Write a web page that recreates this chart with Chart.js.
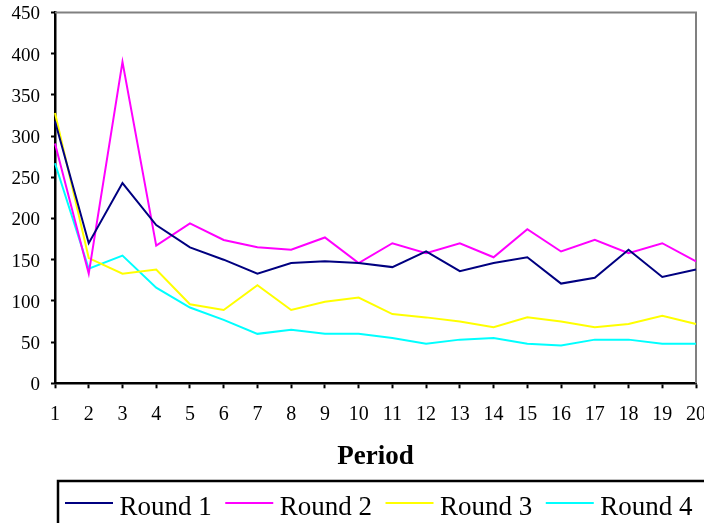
<!DOCTYPE html>
<html>
<head>
<meta charset="utf-8">
<script src="https://cdn.jsdelivr.net/npm/chart.js@4"></script>
<style>
html,body{margin:0;padding:0;background:#fff;}
#wrap{width:704px;height:523px;position:relative;}
</style>
</head>
<body>
<div id="wrap"><canvas id="c" width="704" height="523"></canvas></div>
<script>
// ---- data ----
const periods = ['1','2','3','4','5','6','7','8','9','10','11','12','13','14','15','16','17','18','19','20'];
const seriesNames = ['Round 1','Round 2','Round 3','Round 4'];
const seriesColors = ['#000080','#FF00FF','#FFFF00','#00FFFF'];
const round1 = [318, 170, 243, 192, 165, 150, 133, 146, 148, 146, 141, 160, 136, 146, 153, 121, 128, 162, 129, 138];
const round2 = [291, 133, 390, 167, 194, 174, 165, 162, 177, 146, 170, 158, 170, 153, 187, 160, 174, 158, 170, 148];
const round3 = [328, 152, 133, 138, 96, 89, 119, 89, 99, 104, 84, 80, 75, 68, 80, 75, 68, 72, 82, 72];
const round4 = [267, 139, 155, 116, 92, 77, 60, 65, 60, 60, 55, 48, 53, 55, 48, 46, 53, 53, 48, 48];
const yTickValues = [0, 50, 100, 150, 200, 250, 300, 350, 400, 450];
const xTitle = 'Period';

const seriesValues = [round1, round2, round3, round4];
const SERIF = '"Liberation Serif", "Times New Roman", serif';

const datasets = seriesValues.map((vals, i) => ({
  label: seriesNames[i],
  data: vals,
  borderColor: seriesColors[i],
  backgroundColor: seriesColors[i],
  borderWidth: 2,
  pointRadius: 0,
  pointHoverRadius: 0,
  tension: 0,
  fill: false
}));

// Gray top/right frame of the plot area
const framePlugin = {
  id: 'frame',
  beforeDatasetsDraw(chart) {
    const {ctx, chartArea: a} = chart;
    ctx.save();
    ctx.strokeStyle = '#808080';
    ctx.lineWidth = 2;
    ctx.beginPath();
    ctx.moveTo(a.left, a.top);
    ctx.lineTo(a.right, a.top);
    ctx.lineTo(a.right, a.bottom);
    ctx.stroke();
    ctx.restore();
  }
};

// Boxed legend under the axis title
const boxLegendPlugin = {
  id: 'boxLegend',
  afterDraw(chart) {
    const {ctx} = chart;
    ctx.save();
    ctx.strokeStyle = '#000';
    ctx.lineWidth = 2.5;
    ctx.strokeRect(58, 481, 700, 80);
    ctx.font = '27px ' + SERIF;
    ctx.textBaseline = 'alphabetic';
    ctx.textAlign = 'left';
    let x = 65;
    const lineY = 503;
    const textY = 515;
    chart.data.datasets.forEach(ds => {
      ctx.strokeStyle = ds.borderColor;
      ctx.lineWidth = 2;
      ctx.beginPath();
      ctx.moveTo(x, lineY);
      ctx.lineTo(x + 48, lineY);
      ctx.stroke();
      x += 48 + 6.5;
      ctx.fillStyle = '#000';
      ctx.fillText(ds.label, x, textY);
      x += ctx.measureText(ds.label).width + 13.5;
    });
    ctx.restore();
  }
};

new Chart(document.getElementById('c'), {
  type: 'line',
  data: { labels: periods, datasets: datasets },
  options: {
    responsive: false,
    animation: false,
    devicePixelRatio: 1,
    layout: { padding: { left: 0, right: 8, top: 12.5, bottom: 49.8 } },
    plugins: {
      legend: { display: false },
      tooltip: { enabled: false },
      title: { display: false }
    },
    scales: {
      x: {
        type: 'category',
        offset: false,
        grid: { display: true, drawOnChartArea: false, drawTicks: true, tickLength: 5, tickColor: '#000', tickWidth: 2 },
        border: { display: true, color: '#000', width: 2.5 },
        ticks: { color: '#000', font: { family: SERIF, size: 20 }, padding: 14, autoSkip: false, maxRotation: 0, minRotation: 0 },
        title: { display: true, text: xTitle, color: '#000', font: { family: SERIF, size: 27, weight: 'bold' }, padding: { top: 0, bottom: 0 } },
        afterFit(scale) { scale.height = 89.9; scale.paddingLeft = 0; scale.paddingRight = 0; }
      },
      y: {
        min: 0,
        max: 450,
        afterBuildTicks(scale) { scale.ticks = yTickValues.map(v => ({ value: v })); },
        grid: { display: true, drawOnChartArea: false, drawTicks: true, tickLength: 4, tickColor: '#000', tickWidth: 2 },
        border: { display: true, color: '#000', width: 2.5 },
        ticks: { color: '#000', font: { family: SERIF, size: 19 }, padding: 11, labelOffset: 2 },
        afterFit(scale) { scale.width = 55; scale.paddingTop = 0; scale.paddingBottom = 0; }
      }
    }
  },
  plugins: [framePlugin, boxLegendPlugin]
});
</script>
</body>
</html>
